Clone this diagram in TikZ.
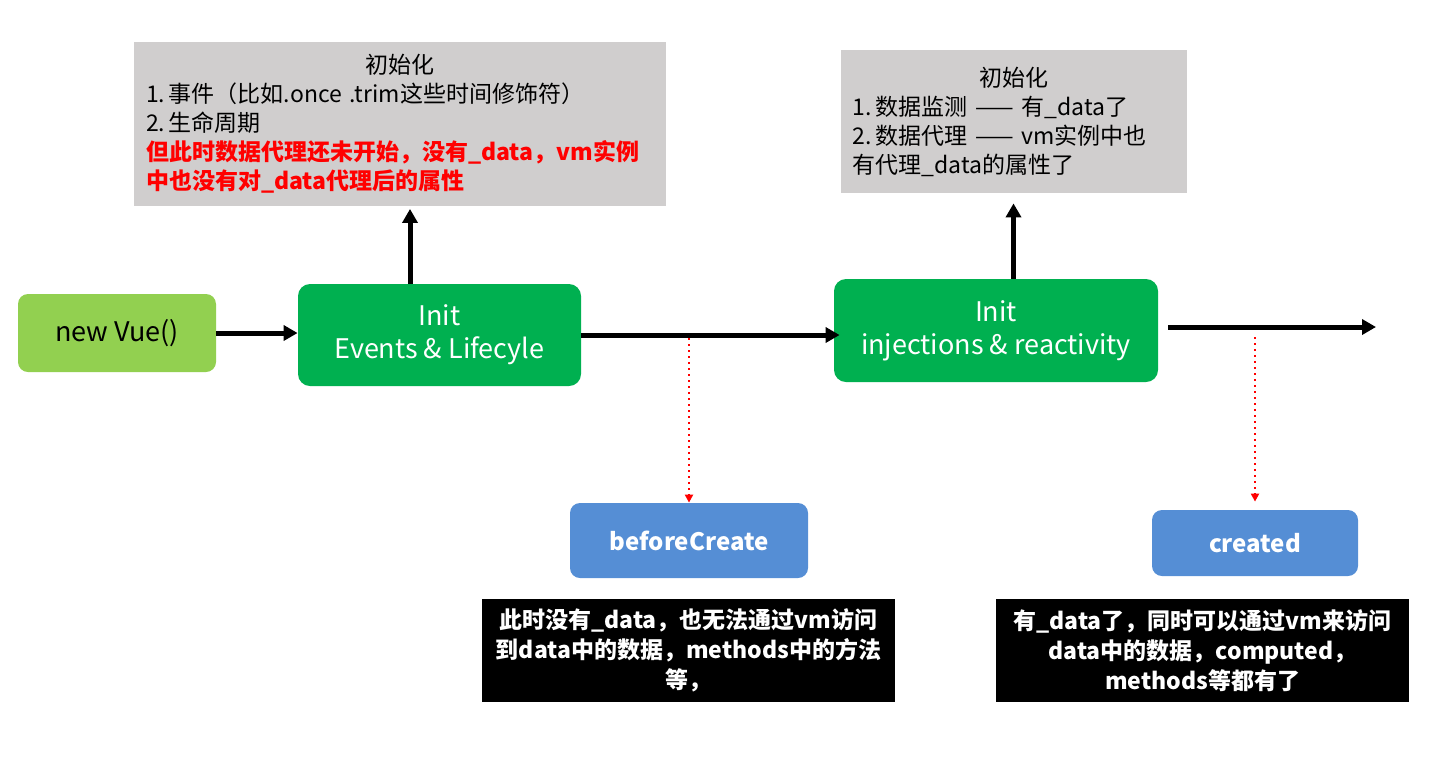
\documentclass[tikz,border=0pt]{standalone}
\usepackage{fontspec}
\setmainfont{Noto Sans CJK SC}
\usetikzlibrary{arrows.meta}
\definecolor{vuelime}{RGB}{146,208,80}
\definecolor{initgreen}{RGB}{0,176,80}
\definecolor{hookblue}{RGB}{85,142,213}
\definecolor{notegray}{RGB}{208,206,206}
\tikzset{
  startbox/.style={fill=vuelime,rounded corners=5pt,minimum width=99pt,minimum height=39pt,font=\fontsize{13.5}{16}\selectfont},
  initbox/.style={fill=initgreen,rounded corners=6pt,text=white,align=center,font=\fontsize{13.5}{16.5}\selectfont},
  hookbox/.style={fill=hookblue,rounded corners=5pt,text=white,font=\fontsize{12}{15}\selectfont\bfseries},
  notebox/.style={fill=notegray,align=left,inner sep=6pt,font=\fontsize{11.5}{14.5}\selectfont},
  tipbox/.style={fill=black,text=white,align=center,minimum width=206.5pt,minimum height=51.5pt,font=\fontsize{11.5}{15}\selectfont\bfseries},
  flow/.style={line width=2.5pt,-{Triangle[length=7pt,width=7.5pt]}},
  hookline/.style={red,dotted,line width=1pt,-{Triangle[length=4pt,width=4pt]}}
}
\begin{document}
\begin{tikzpicture}[x=0.5pt,y=-0.5pt]
\useasboundingbox (0,0) rectangle (1438,773);

\node[startbox] (start) at (117,333) {new Vue()};
\node[initbox,minimum width=141.5pt,minimum height=51pt] (init1) at (439.5,335) {Init\\Events \& Lifecyle};
\node[initbox,minimum width=162pt,minimum height=51.5pt] (init2) at (996,330.5) {Init\\injections \& reactivity};
\node[hookbox,minimum width=119pt,minimum height=37.5pt] (before) at (689,540.5) {beforeCreate};
\node[hookbox,minimum width=103pt,minimum height=33pt] (created) at (1255,543) {created};

% notes above
\node[notebox,text width=254pt,minimum height=80pt] (note1) at (400,124)
  {{\centering 初始化\par}1.\,事件（比如.once .trim这些时间修饰符）\\2.\,生命周期\\
   {\color{red}\bfseries 但此时数据代理还未开始，没有\_data，vm实例}\\
   {\color{red}\bfseries 中也没有对\_data代理后的属性}};
\node[notebox,text width=161pt,minimum height=71.5pt] (note2) at (1013.5,121.5)
  {{\centering 初始化\par}1.\,数据监测 —— 有\_data了\\2.\,数据代理 —— vm实例中也\\有代理\_data的属性了};

% notes below
\node[tipbox] (tip1) at (688.5,650.5) {此时没有\_data，也无法通过vm访问\\到data中的数据，methods中的方法\\等，};
\node[tipbox] (tip2) at (1202.5,650.5) {有\_data了，同时可以通过vm来访问\\data中的数据，computed，\\methods等都有了};

\coordinate (next) at (1376,327);

\draw[flow] (start.east) -- (start.east -| init1.west);
\draw[flow] (init1.east) -- ([xshift=3pt]init1.east -| init2.west);
\draw[flow] ([xshift=5pt]init2.east |- next) -- (next);
\draw[flow] ([xshift=5pt]note1.south |- init1.north) -- ([xshift=5pt,yshift=-1.5pt]note1.south);
\draw[flow] (note2.south |- init2.north) -- ([yshift=-5pt]note2.south);

% hooks
\draw[hookline] ([yshift=-1.5pt]init1.east -| before.north) -- (before.north);
\draw[hookline] ([yshift=-5pt]next -| created.north) -- ([yshift=4pt]created.north);
\end{tikzpicture}
\end{document}
